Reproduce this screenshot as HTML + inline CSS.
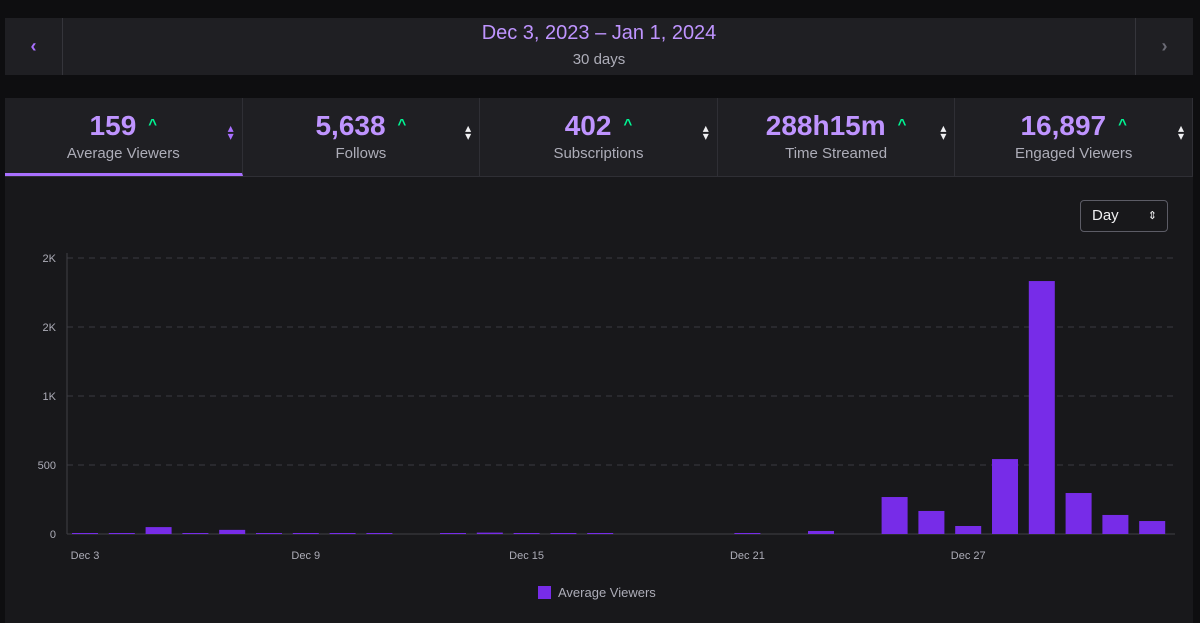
<!DOCTYPE html>
<html><head><meta charset="utf-8"><style>
body{margin:0;width:1200px;height:623px;background:#0e0e10;font-family:"Liberation Sans",sans-serif;overflow:hidden;position:relative}
.abs{position:absolute}
.hdr{left:5px;top:18px;width:1188px;height:57px;background:#1f1f23}
.nav{top:0;width:57px;height:57px;color:#a970ff;font-size:18px;display:flex;align-items:center;justify-content:center;font-weight:bold}
.panel{left:5px;top:98px;width:1188px;height:525px;background:#18181b}
.card{top:0;height:78px;width:237.6px;border-right:1px solid #2f2f35;background:#1f1f23;box-sizing:border-box;text-align:center}
.val{position:absolute;top:12px;left:0;right:0;font-size:28px;font-weight:bold;color:#bf94ff}
.up{color:#00f593;font-size:15px;margin-left:12px;vertical-align:6px}
.lbl{position:absolute;top:47px;left:0;right:0;font-size:15px;color:#adadb8}
.sort{position:absolute;right:8px;top:26px;color:#efeff1;font-size:12px;line-height:8px}
</style></head><body>
<div class="abs hdr">
 <div class="abs nav" style="left:0;border-right:1px solid #35353b">‹</div>
 <div class="abs" style="left:0;right:0;top:4px;text-align:center;color:#bf94ff;font-size:20px">Dec 3, 2023 – Jan 1, 2024</div>
 <div class="abs" style="left:0;right:0;top:33px;text-align:center;color:#adadb8;font-size:15px">30 days</div>
 <div class="abs nav" style="right:0;border-left:1px solid #35353b;color:#6b6b75">›</div>
</div>
<div class="abs panel">
 <div class="abs" style="left:0;top:78px;width:1188px;height:1px;background:#2f2f35"></div>
 <div id="cards"></div>
 <div class="abs" style="left:1075px;top:102px;width:88px;height:32px;border:1px solid #5c5c66;border-radius:4px;box-sizing:border-box;color:#efeff1;font-size:15px;line-height:30px;padding-left:11px">Day<span style="position:absolute;right:10px;top:0;font-size:11px">⇕</span></div>
</div>
<svg class="abs" style="left:0;top:0" width="1200" height="623" id="chart"></svg>
<script>
const cards=[["159","Average Viewers"],["5,638","Follows"],["402","Subscriptions"],["288h15m","Time Streamed"],["16,897","Engaged Viewers"]];
const dayLabels=["Dec 3","Dec 9","Dec 15","Dec 21","Dec 27"];
const dayLabelIdx=[0,6,12,18,24];
const viewers=[4,2,50,6,30,3,3,3,3,0,3,10,3,3,3,0,0,0,6,0,22,0,268,167,58,543,1833,297,138,94];
const yTicks=[0,500,1000,1500,2000];
const yTickLabels=["0","500","1K","2K","2K"];
const cc=document.getElementById('cards');
cards.forEach((c,i)=>{const d=document.createElement('div');d.className='abs card';d.style.left=(i*237.6)+'px';
if(i==0){d.style.borderBottom='3px solid #a970ff';}


d.innerHTML='<div class="val">'+c[0]+'<span class="up">^</span></div><div class="lbl">'+c[1]+'</div><div class="sort" style="color:'+(i==0?'#a970ff':'#efeff1')+'">▴<br>▾</div>';cc.appendChild(d);});
const svg=document.getElementById('chart');const NS='http://www.w3.org/2000/svg';
const x0=67,x1=1175,y0=534,ppv=69/500;
const xc=i=>85+i*36.8;const y=v=>y0-v*ppv;
function mk(t,a,p){const e=document.createElementNS(NS,t);for(const k in a)e.setAttribute(k,a[k]);(p||svg).appendChild(e);return e;}
yTicks.forEach((v,i)=>{const l=mk('line',{x1:x0,x2:x1,y1:y(v),y2:y(v),stroke:v?'#3a3a40':'#3f3f46','stroke-dasharray':v?'6,5':'0'});


const t=mk('text',{x:56,y:y(v)+4,'text-anchor':'end',fill:'#adadb8','font-size':11,'font-family':'Liberation Sans'});t.textContent=yTickLabels[i];

});
mk('line',{x1:x0,x2:x0,y1:253,y2:534,stroke:'#3f3f46'});
viewers.forEach((v,i)=>{const h=Math.max(v*ppv,v>0?1:0);const r=mk('rect',{x:xc(i)-13,y:y0-h,width:26,height:h,fill:'#772ce8'});

});
dayLabels.forEach((s,k)=>{const t=mk('text',{x:xc(dayLabelIdx[k]),y:559,'text-anchor':'middle',fill:'#adadb8','font-size':11,'font-family':'Liberation Sans'});t.textContent=s;

});
const lg=mk('g',{});

mk('rect',{x:538,y:586,width:13,height:13,fill:'#772ce8'},lg);
const lt=mk('text',{x:558,y:597,fill:'#adadb8','font-size':13,'font-family':'Liberation Sans'},lg);lt.textContent='Average Viewers';
</script>
</body></html>
